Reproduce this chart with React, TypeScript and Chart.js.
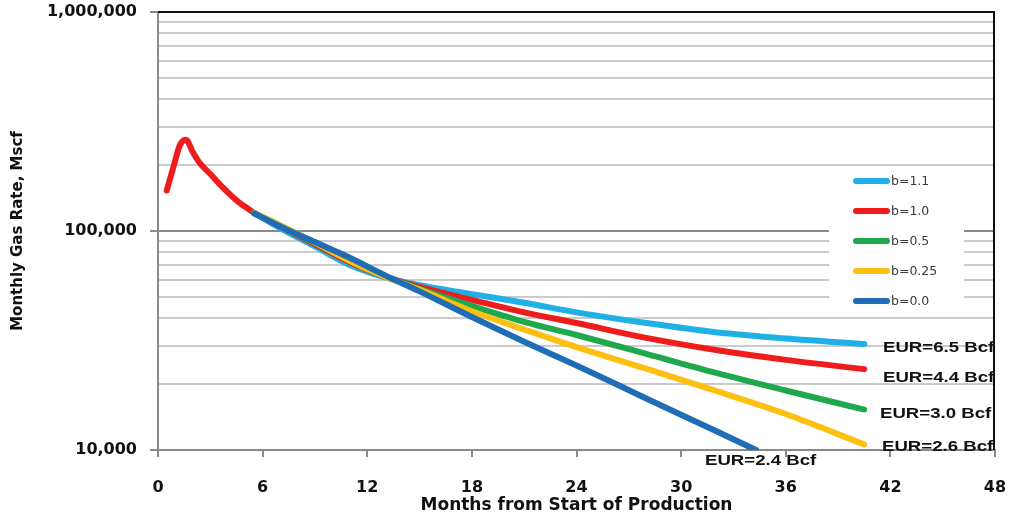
import React, { useEffect, useRef } from "react";
import { Chart, registerables } from "chart.js";

Chart.register(...registerables);

// ---- data ----
const MONTHS_EARLY = [0.5, 0.9, 1.25, 1.6, 2.0, 2.4, 3.0, 3.7, 4.5, 5.5];
const RATE_EARLY = [153000, 198000, 246000, 261000, 229000, 204000, 182000, 158500, 138000, 121000];

const MONTHS = [5.5, 7, 9, 11, 13, 15, 18, 21, 24, 28, 32, 36, 40.5];
const RATE_B11 = [121000, 103000, 85000, 70000, 61500, 56500, 51500, 47000, 42500, 38000, 34500, 32300, 30500];
const RATE_B10 = [121000, 105000, 87000, 72000, 62000, 55500, 48500, 42500, 38000, 32500, 28600, 25800, 23400];
const RATE_B05 = [121000, 106000, 88000, 73000, 62000, 54500, 45500, 38500, 33500, 27500, 22500, 18700, 15300];
const RATE_B025 = [121000, 106000, 88500, 73000, 62000, 54000, 43000, 35500, 29500, 23500, 18600, 14600, 10600];

const MONTHS_B00 = [5.5, 7, 9, 11, 13, 15, 18, 21, 24, 28, 32, 34.3];
const RATE_B00 = [120500, 105000, 89000, 75500, 62900, 53000, 40500, 31200, 24300, 17200, 12200, 10000];

const X_TICKS = [0, 6, 12, 18, 24, 30, 36, 42, 48];
const Y_GRID = [
  10000, 20000, 30000, 40000, 50000, 60000, 70000, 80000, 90000,
  100000, 200000, 300000, 400000, 500000, 600000, 700000, 800000, 900000,
  1000000,
];
const Y_MAJOR = [10000, 100000, 1000000];
const Y_LABELS = ["10,000", "100,000", "1,000,000"];

const SERIES_LABELS = ["b=1.1", "b=1.0", "b=0.5", "b=0.25", "b=0.0"];
const SERIES_COLORS = ["#1fb0e6", "#ee1c1c", "#1fa84c", "#fdbf10", "#1f6db5"];
const EUR_LABELS = ["EUR=6.5 Bcf", "EUR=4.4 Bcf", "EUR=3.0 Bcf", "EUR=2.6 Bcf", "EUR=2.4 Bcf"];

const X_TITLE = "Months from Start of Production";
const Y_TITLE = "Monthly Gas Rate, Mscf";

const pts = (xs: number[], ys: number[]) => xs.map((x, i) => ({ x, y: ys[i] }));

const lineDs = (label: string, color: string, data: any[], order: number) => ({
  label,
  data,
  borderColor: color,
  backgroundColor: color,
  borderWidth: 6,
  borderCapStyle: "round" as const,
  borderJoinStyle: "round" as const,
  pointRadius: 0,
  pointHoverRadius: 0,
  fill: false,
  cubicInterpolationMode: "monotone" as const,
  order,
});

// annotation layout (pixels)
const LEGEND_BOX = { x: 829, y: 166, w: 135, h: 151 };
const LEGEND_ROWS = [181, 211, 241, 271, 301];
const EUR_POS = [
  { x: 883, y: 348 },
  { x: 883, y: 378 },
  { x: 880, y: 414 },
  { x: 882, y: 447 },
  { x: 705, y: 461 },
];

const decor = {
  id: "decor",
  beforeDatasetsDraw(chart: any) {
    const ctx = chart.ctx;
    ctx.save();
    ctx.fillStyle = "#ffffff";
    ctx.fillRect(LEGEND_BOX.x, LEGEND_BOX.y, LEGEND_BOX.w, LEGEND_BOX.h);
    ctx.restore();
  },
  afterDatasetsDraw(chart: any) {
    const ctx = chart.ctx;
    const a = chart.chartArea;
    ctx.save();
    // top and right frame
    ctx.strokeStyle = "#111111";
    ctx.lineWidth = 2;
    ctx.beginPath();
    ctx.moveTo(a.left, a.top);
    ctx.lineTo(a.right - 1, a.top);
    ctx.lineTo(a.right - 1, a.bottom);
    ctx.stroke();

    // legend
    ctx.lineCap = "round";
    ctx.lineWidth = 6;
    ctx.font = "12.5px 'DejaVu Sans'";
    ctx.textBaseline = "middle";
    ctx.textAlign = "left";
    SERIES_LABELS.forEach((lab, i) => {
      const y = LEGEND_ROWS[i];
      ctx.strokeStyle = SERIES_COLORS[i];
      ctx.beginPath();
      ctx.moveTo(856, y);
      ctx.lineTo(887, y);
      ctx.stroke();
      ctx.fillStyle = "#3a3a3a";
      ctx.fillText(lab, 891, y + 1);
    });

    // EUR labels
    ctx.fillStyle = "#111111";
    ctx.font = "bold 14px 'Liberation Sans'";
    EUR_LABELS.forEach((lab, i) => {
      const p = EUR_POS[i];
      ctx.save();
      ctx.translate(p.x, p.y);
      ctx.scale(1.33, 1);
      ctx.fillText(lab, 0, 0);
      ctx.restore();
    });

    // axis titles
    ctx.fillStyle = "#111111";
    ctx.textAlign = "center";
    ctx.font = "bold 17px 'DejaVu Sans'";
    ctx.fillText(X_TITLE, (a.left + a.right) / 2, 506);
    ctx.save();
    ctx.translate(18, (a.top + a.bottom) / 2);
    ctx.rotate(-Math.PI / 2);
    ctx.font = "bold 15px 'DejaVu Sans'";
    ctx.fillText(Y_TITLE, 0, 0);
    ctx.restore();
    ctx.restore();
  },
};

export default function App() {
  const ref = useRef<HTMLCanvasElement>(null);

  useEffect(() => {
    if (!ref.current) return;
    const chart = new Chart(ref.current, {
      type: "line",
      data: {
        datasets: [
          lineDs("early", "#ee1c1c", pts(MONTHS_EARLY, RATE_EARLY), 6),
          lineDs(SERIES_LABELS[0], SERIES_COLORS[0], pts(MONTHS, RATE_B11), 5),
          lineDs(SERIES_LABELS[1], SERIES_COLORS[1], pts(MONTHS, RATE_B10), 4),
          lineDs(SERIES_LABELS[2], SERIES_COLORS[2], pts(MONTHS, RATE_B05), 3),
          lineDs(SERIES_LABELS[3], SERIES_COLORS[3], pts(MONTHS, RATE_B025), 2),
          lineDs(SERIES_LABELS[4], SERIES_COLORS[4], pts(MONTHS_B00, RATE_B00), 1),
        ],
      },
      options: {
        responsive: false,
        maintainAspectRatio: false,
        animation: false,
        devicePixelRatio: 1,
        layout: { padding: { left: 0, top: 12, right: 15, bottom: 0 } },
        plugins: {
          legend: { display: false },
          tooltip: { enabled: false },
          title: { display: false },
        },
        scales: {
          x: {
            type: "linear",
            min: 0,
            max: 48,
            afterBuildTicks: (scale: any) => {
              scale.ticks = X_TICKS.map((v) => ({ value: v }));
            },
            afterFit: (scale: any) => {
              scale.height = 67;
              scale.paddingLeft = 0;
              scale.paddingRight = 0;
            },
            ticks: {
              autoSkip: false,
              maxRotation: 0,
              padding: 21,
              color: "#111111",
              font: { family: "'DejaVu Sans'", size: 16, weight: "bold" },
              callback: (v: any) => String(v),
            },
            grid: {
              drawOnChartArea: false,
              drawTicks: true,
              tickLength: 7,
              tickColor: "#8a8a8a",
              lineWidth: 2,
            },
            border: { color: "#8a8a8a", width: 2 },
          },
          y: {
            type: "logarithmic",
            min: 10000,
            max: 1000000,
            afterBuildTicks: (scale: any) => {
              scale.ticks = Y_GRID.map((v) => ({ value: v, major: Y_MAJOR.includes(v) }));
            },
            afterFit: (scale: any) => {
              scale.width = 158;
              scale.paddingTop = 0;
              scale.paddingBottom = 0;
            },
            ticks: {
              autoSkip: false,
              padding: 13,
              color: "#111111",
              font: { family: "'DejaVu Sans'", size: 16, weight: "bold" },
              callback: (v: any) => {
                const i = Y_MAJOR.indexOf(Number(v));
                return i >= 0 ? Y_LABELS[i] : "";
              },
            },
            grid: {
              drawTicks: true,
              tickLength: 8,
              color: (c: any) => {
                const v = c.tick && c.tick.value;
                if (v === 100000) return "#8a8a8a";
                if (v === 1000000) return "#111111";
                return "#cbcbcb";
              },
              lineWidth: 2,
              tickColor: (c: any) => {
                const v = c.tick && c.tick.value;
                return Y_MAJOR.includes(v) ? "#8a8a8a" : "rgba(0,0,0,0)";
              },
            },
            border: { color: "#8a8a8a", width: 2 },
          },
        },
      },
      plugins: [decor],
    } as any);
    return () => chart.destroy();
  }, []);

  return (
    <div style={{ position: "fixed", left: 0, top: 0, width: 1010, height: 517, background: "#ffffff" }}>
      <canvas ref={ref} width={1010} height={517} style={{ display: "block", width: 1010, height: 517 }} />
    </div>
  );
}
